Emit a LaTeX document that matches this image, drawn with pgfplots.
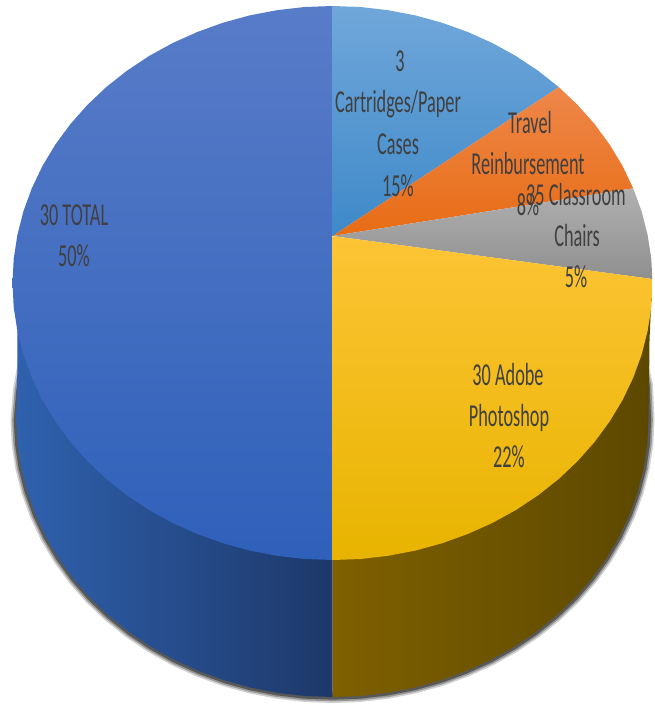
\documentclass[border=0pt]{standalone}
\usepackage{graphicx}
\usepackage{fontspec}
\setmainfont{Carlito}
\usepackage{pgfplots}
\pgfplotsset{compat=1.18}
\usepackage{pgfplotstable}

\definecolor{txt}{HTML}{404040}
\definecolor{sideblueA}{RGB}{47,97,174}
\definecolor{sideblueB}{RGB}{29,56,105}
\definecolor{sideyelA}{RGB}{127,96,0}
\definecolor{sideyelM}{RGB}{98,77,0}
\definecolor{sideyelB}{RGB}{92,72,0}
\definecolor{blueA}{RGB}{88,124,200}
\definecolor{blueM}{RGB}{58,105,196}
\definecolor{blueB}{RGB}{47,96,186}
\definecolor{skyA}{RGB}{112,167,218}
\definecolor{skyB}{RGB}{62,137,201}
\definecolor{orA}{RGB}{238,135,74}
\definecolor{orB}{RGB}{232,108,20}
\definecolor{grA}{RGB}{176,176,176}
\definecolor{grB}{RGB}{143,143,143}
\definecolor{yeA}{RGB}{253,196,53}
\definecolor{yeM}{RGB}{255,192,0}
\definecolor{yeB}{RGB}{232,180,0}

% outer lower edge of the pie, in pixels of the reference
% (both ends start under the top face so the shadow has no hard tips)
\pgfplotstableread{
x y
26 350
19 390
16.5 420
17.7 444.2
21.3 468.1
27.3 491.7
35.6 514.7
46.1 537.1
58.8 558.5
73.6 578.9
90.4 598.1
109.1 615.9
129.4 632.2
151.2 646.9
174.5 659.9
199 671
224.4 680.3
250.7 687.6
277.6 692.8
304.9 696
332.5 697
360.1 696
387.4 692.8
414.3 687.6
440.6 680.3
466 671
490.5 659.9
513.8 646.9
535.6 632.2
555.9 615.9
574.6 598.1
591.4 578.9
606.2 558.5
618.9 537.1
629.4 514.7
637.7 491.7
643.7 468.1
647.3 444.2
648.5 420
647 385
638 345
}\loweredge

\newcommand{\lbl}[3]{\node[anchor=base,text=txt,inner sep=0pt] at (axis cs:#1,#2) {\scalebox{1}[1.75]{\fontsize{13.7}{16}\selectfont #3}};}

\begin{document}
\begin{tikzpicture}
\begin{axis}[
    scale only axis,
    width=491.25pt,
    height=529.5pt,
    xmin=0, xmax=655,
    ymin=0, ymax=706,
    y dir=reverse,
    hide axis,
    clip=false,
]
% keeps the page as large as the reference
\addplot[draw=none] coordinates {(0,0) (655,706)};

% soft shadow
\addplot[no marks,draw=black,opacity=0.18,line width=9pt,line join=round] table[x=x,y=y] {\loweredge};
\addplot[no marks,draw=black,opacity=0.28,line width=6.5pt,line join=round] table[x=x,y=y] {\loweredge};
\addplot[no marks,draw=black,opacity=0.42,line width=4pt,line join=round] table[x=x,y=y] {\loweredge};

% sides
\addplot[no marks,draw=none,left color=sideblueA,right color=sideblueB] coordinates {
(332.5,697) (304.9,696) (277.6,692.8) (250.7,687.6) (224.4,680.3) (199,671) (174.5,659.9)
(151.2,646.9) (129.4,632.2) (109.1,615.9) (90.4,598.1) (73.6,578.9) (58.8,558.5) (46.1,537.1)
(35.6,514.7) (27.3,491.7) (21.3,468.1) (17.7,444.2) (16.5,420) (17.2,390) (17.4,331.1) (332.5,331.1) (332.5,697)
};
\addplot[no marks,draw=none,left color=sideyelA,middle color=sideyelM,right color=sideyelB] coordinates {
(332.5,697) (360.1,696) (387.4,692.8) (414.3,687.6) (440.6,680.3) (466,671) (490.5,659.9)
(513.8,646.9) (535.6,632.2) (555.9,615.9) (574.6,598.1) (591.4,578.9) (606.2,558.5) (618.9,537.1)
(629.4,514.7) (637.7,491.7) (643.7,468.1) (647.3,444.2) (648.5,420) (649,390) (649.5,340) (651.5,295) (332.5,295) (332.5,697)
};

% 50% TOTAL
\addplot[no marks,draw=none,top color=blueA,middle color=blueM,bottom color=blueB] coordinates {
(332.5,236) (332.5,560) (304.6,559) (276.9,555.8) (249.7,550.6) (223.1,543.3) (197.3,534)
(172.5,522.9) (148.9,509.9) (126.8,495.2) (106.2,478.9) (87.4,461.1) (70.4,441.9) (55.4,421.5)
(42.5,400.1) (31.8,377.7) (23.4,354.7) (17.4,331.1) (13.7,307.2) (12.5,283) (13.7,258.8)
(17.4,234.9) (23.4,211.3) (31.8,188.3) (42.5,165.9) (55.4,144.5) (70.4,124.1) (87.4,104.9)
(106.2,87.1) (126.8,70.8) (148.9,56.1) (172.5,43.1) (197.3,32) (223.1,22.7) (249.7,15.4)
(276.9,10.2) (304.6,7) (332.5,6) (332.5,236)
};

% 15% cartridges
\addplot[no marks,draw=none,top color=skyA,bottom color=skyB] coordinates {
(332.5,236) (332.5,6) (360.4,7) (388.1,10.2) (415.3,15.4) (441.9,22.7) (467.7,32) (492.5,43.1)
(516.1,56.1) (538.2,70.8) (558.8,87.1) (332.5,236)
};

% 8% travel
\addplot[no marks,draw=none,top color=orA,bottom color=orB] coordinates {
(332.5,236) (558.8,87.1) (577.6,104.9) (594.6,124.1) (609.6,144.5) (622.5,165.9) (633.2,188.3) (332.5,236)
};

% 5% chairs
\addplot[no marks,draw=none,top color=grA,bottom color=grB] coordinates {
(332.5,236) (633.2,188.3) (641.6,211.3) (647.6,234.9) (651.3,258.8) (652.3,279) (332.5,236)
};

% 22% photoshop
\addplot[no marks,draw=none,top color=yeA,middle color=yeM,bottom color=yeB] coordinates {
(332.5,236) (652.3,279) (652.5,283) (651.3,307.2) (647.6,331.1) (641.6,354.7) (633.2,377.7)
(622.5,400.1) (609.6,421.5) (594.6,441.9) (577.6,461.1) (558.8,478.9) (538.2,495.2) (516.1,509.9)
(492.5,522.9) (467.7,534) (441.9,543.3) (415.3,550.6) (388.1,555.8) (360.4,559) (332.5,560) (332.5,236)
};

% labels, one node per line
\lbl{400}{72}{3}
\lbl{398}{113}{Cartridges/Paper}
\lbl{398}{155}{Cases}
\lbl{398}{196}{15\%}
\lbl{530}{133.5}{Travel}
\lbl{528}{175}{Reinbursement}
\lbl{576}{205}{35 Classroom}
\lbl{528}{215}{8\%}
\lbl{577}{246}{Chairs}
\lbl{576}{287}{5\%}
\lbl{74}{225}{30 TOTAL}
\lbl{74}{266}{50\%}
\lbl{508}{385}{30 Adobe}
\lbl{509}{426}{Photoshop}
\lbl{509}{467}{22\%}
\end{axis}
\end{tikzpicture}
\end{document}
